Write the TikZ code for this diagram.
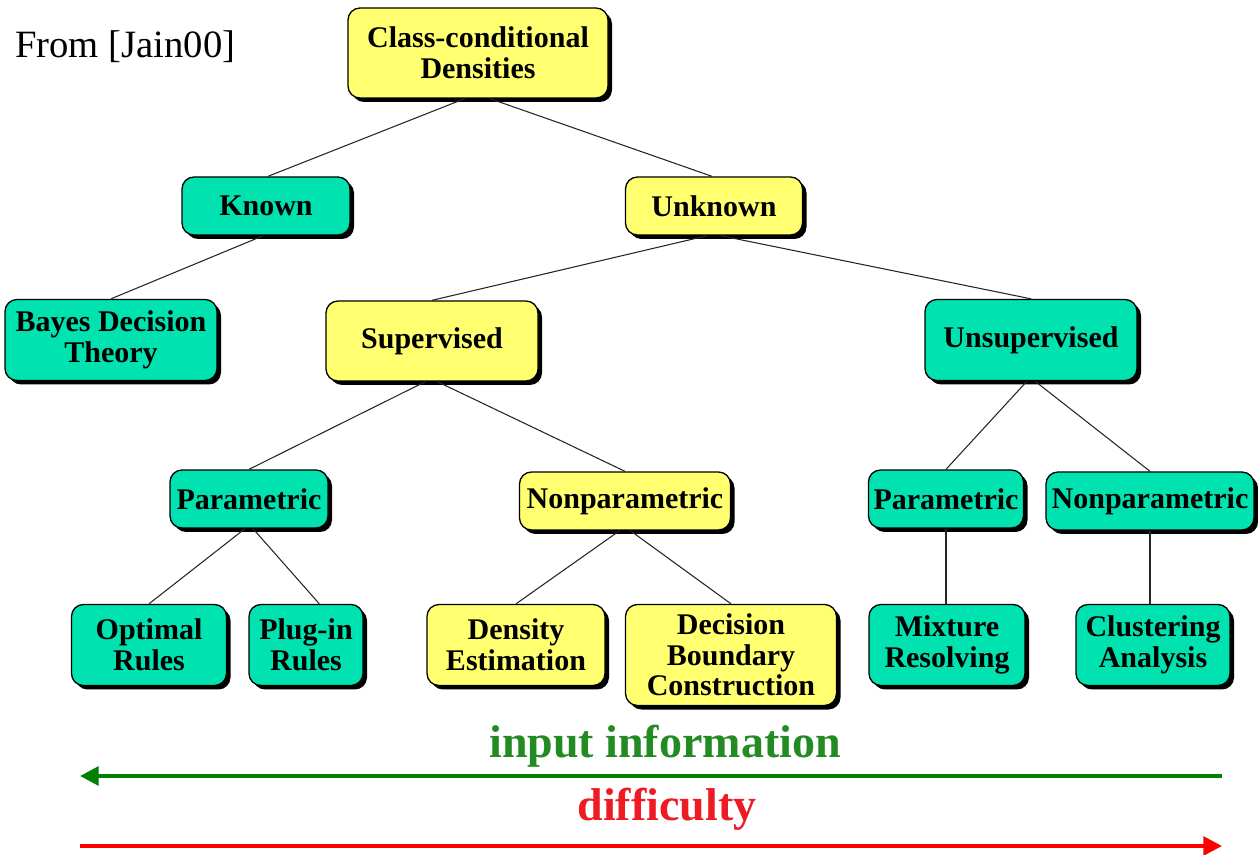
\documentclass[tikz,border=0pt]{standalone}
\usepackage{fontspec}
\setmainfont{Liberation Serif}
\usetikzlibrary{shadows,arrows.meta}
\definecolor{boxgreen}{RGB}{0,226,176}
\definecolor{boxyellow}{RGB}{255,255,112}
\definecolor{txtgreen}{RGB}{34,139,34}
\definecolor{arrgreen}{RGB}{0,128,0}
\definecolor{arrred}{RGB}{255,0,0}
\definecolor{txtred}{RGB}{237,28,36}
\tikzset{
  box/.style={draw=black, line width=1pt, rounded corners=9pt, inner sep=0pt, align=center,
    font=\fontsize{22.5}{23}\selectfont\bfseries,
    drop shadow={shadow xshift=3pt, shadow yshift=-3pt, fill=black, opacity=1}},
  gbox/.style={box, fill=boxgreen},
  ybox/.style={box, fill=boxyellow},
  link/.style={draw=black!85, line width=0.8pt},
  bigarrow/.style={line width=3pt, -{Triangle[length=14pt,width=14pt]}},
}
\begin{document}
\begin{tikzpicture}[x=0.75pt,y=-0.75pt]
\useasboundingbox (0,0) rectangle (1258,855);

\node[ybox, minimum width=195pt, minimum height=67.5pt] (ccd) at (478,53) {Class-conditional\\Densities};
\node[gbox, minimum width=126pt, minimum height=43.5pt] (known) at (266,206) {Known};
\node[ybox, minimum width=132.75pt, minimum height=43.5pt] (unknown) at (714,206) {Unknown};
\node[gbox, minimum width=159pt, minimum height=60.75pt] (bayes) at (111,340) {Bayes Decision\\Theory};
\node[ybox, minimum width=159pt, minimum height=60pt] (sup) at (432,341) {Supervised};
\node[gbox, minimum width=159pt, minimum height=60.75pt] (unsup) at (1031,340) {Unsupervised};
\node[gbox, minimum width=118.5pt, minimum height=43.5pt] (parl) at (249,499) {Parametric};
\node[ybox, minimum width=158.25pt, minimum height=43.5pt] (nonm) at (625,501) {Nonparametric};
\node[gbox, minimum width=116.25pt, minimum height=43.5pt] (parr) at (946,499) {Parametric};
\node[gbox, minimum width=156pt, minimum height=43.5pt] (nonr) at (1150,501) {Nonparametric};
\node[gbox, minimum width=116.25pt, minimum height=60.75pt] (opt) at (149,645) {Optimal\\Rules};
\node[gbox, minimum width=85.5pt, minimum height=60.75pt] (plug) at (306,645) {Plug-in\\Rules};
\node[ybox, minimum width=133.5pt, minimum height=60.75pt] (dens) at (516,645) {Density\\Estimation};
\node[ybox, minimum width=158.25pt, minimum height=75.75pt] (dec) at (731,655) {Decision\\Boundary\\Construction};
\node[gbox, minimum width=117pt, minimum height=60.75pt] (mix) at (947,645) {Mixture\\Resolving};
\node[gbox, minimum width=115.5pt, minimum height=60.75pt] (clu) at (1153,645) {Clustering\\Analysis};

\path[link] ([xshift=-10pt]ccd.south) -- ([xshift=1.5pt]known.north);
\path[link] ([xshift=9pt]ccd.south) -- ([xshift=-1.5pt]unknown.north);
\path[link] ([xshift=-2pt]known.south) -- (bayes.north);
\path[link] ([xshift=-5pt]unknown.south) -- (sup.north);
\path[link] ([xshift=5pt]unknown.south) -- (unsup.north);
\path[link] ([xshift=-5pt]sup.south) -- (parl.north);
\path[link] ([xshift=4pt]sup.south) -- (nonm.north);
\path[link] ([xshift=-3pt]unsup.south) -- (parr.north);
\path[link] ([xshift=3pt]unsup.south) -- (nonr.north);
\path[link] ([xshift=-3pt]parl.south) -- (opt.north);
\path[link] ([xshift=3pt]parl.south) -- ([xshift=10pt]plug.north);
\path[link] ([xshift=-4pt]nonm.south) -- (dens.north);
\path[link] ([xshift=4pt]nonm.south) -- (dec.north);
\path[link] (parr.south) -- (parr.south |- mix.north);
\path[link] (nonr.south) -- (nonr.south |- clu.north);

\node[anchor=base west, font=\fontsize{29}{31}\selectfont, inner sep=0pt] (from) at (15,58) {From [Jain00]};

\node[anchor=base, font=\fontsize{34.5}{36}\selectfont\bfseries, text=txtgreen, inner sep=0pt] (inp) at (665,758) {input information};
\node[anchor=base, font=\fontsize{34.5}{36}\selectfont\bfseries, text=txtred, inner sep=0pt] (diff) at (667,820) {difficulty};

\coordinate (g1) at (1222,776); \coordinate (g0) at (80,776);
\coordinate (r0) at (80,846); \coordinate (r1) at (1222,846);
\draw[bigarrow, arrgreen] (g1) -- (g0);
\draw[bigarrow, arrred] (r0) -- (r1);
\end{tikzpicture}
\end{document}
